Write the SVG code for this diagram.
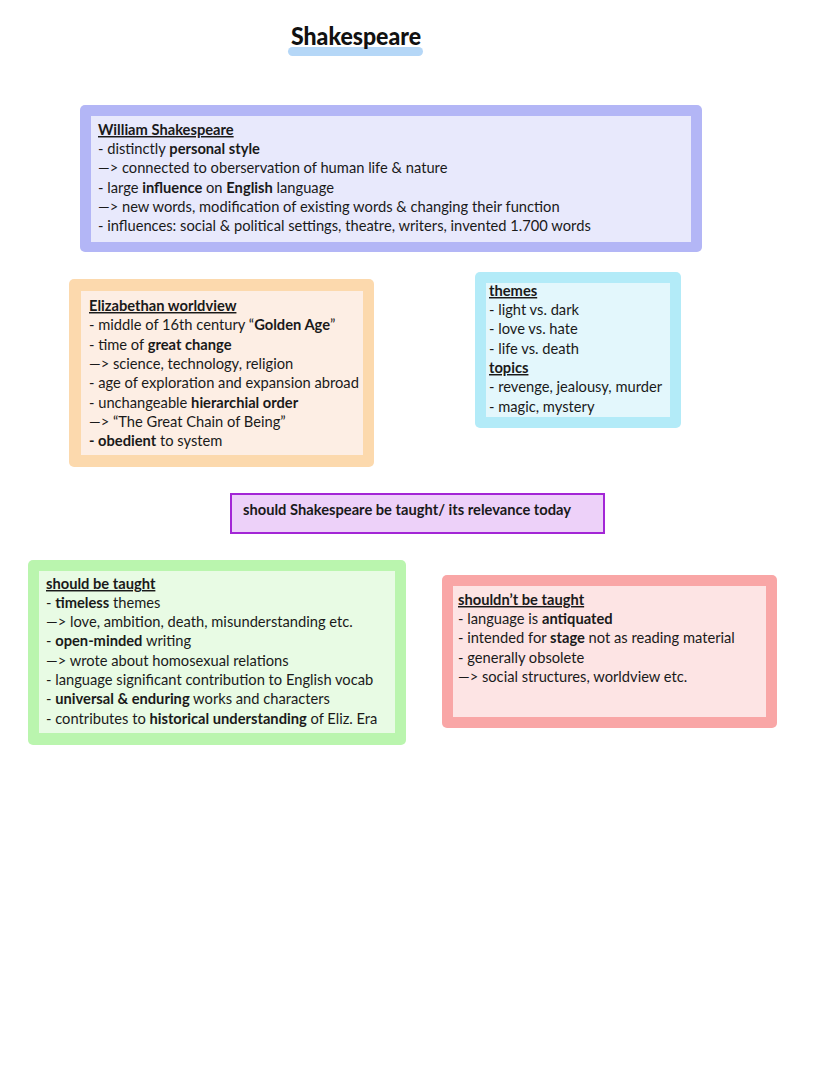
<svg xmlns="http://www.w3.org/2000/svg" width="828" height="1069" viewBox="0 0 828 1069">
<style>
.t{font-family:Lato,"Open Sans","Liberation Sans",sans-serif;font-size:14.7px;fill:#1a1a1a}
.b{font-weight:bold}
.u{font-weight:bold;text-decoration:underline}
.title{font-family:Lato,"Liberation Sans",sans-serif;font-size:25px;font-weight:900;fill:#111}
</style>
<rect width="828" height="1069" fill="#ffffff"/>
<g id="title">
<rect x="288" y="47" width="135" height="9" rx="4.5" fill="#b5d7f7"/>
<text class="title" x="291" y="45" textLength="130" lengthAdjust="spacingAndGlyphs">Shakespeare</text>
</g>
<g id="connectors"></g>
<g id="william">
<rect x="80" y="105" width="622" height="147" rx="5" fill="#b3b6f6"/>
<rect x="91" y="116" width="600" height="126" fill="#e8e9fc"/>
<text class="t" x="98" y="135"><tspan class="u">William Shakespeare</tspan></text>
<text class="t" x="98" y="154">- distinctly <tspan class="b">personal style</tspan></text>
<text class="t" x="98" y="173">—&gt; connected to oberservation of human life &amp; nature</text>
<text class="t" x="98" y="193">- large <tspan class="b">influence</tspan> on <tspan class="b">English</tspan> language</text>
<text class="t" x="98" y="212">—&gt; new words, modification of existing words &amp; changing their function</text>
<text class="t" x="98" y="231">- influences: social &amp; political settings, theatre, writers, invented 1.700 words</text>
</g>
<g id="elizabethan">
<rect x="69" y="279" width="305" height="188" rx="5" fill="#fcd9ad"/>
<rect x="81" y="291" width="282" height="164" fill="#fdeee4"/>
<text class="t" x="89" y="311"><tspan class="u">Elizabethan worldview</tspan></text>
<text class="t" x="89" y="330">- middle of 16th century “<tspan class="b">Golden Age</tspan>”</text>
<text class="t" x="89" y="350">- time of <tspan class="b">great change</tspan></text>
<text class="t" x="89" y="369">—&gt; science, technology, religion</text>
<text class="t" x="89" y="388">- age of exploration and expansion abroad</text>
<text class="t" x="89" y="408">- unchangeable <tspan class="b">hierarchial order</tspan></text>
<text class="t" x="89" y="427">—&gt; “The Great Chain of Being”</text>
<text class="t" x="89" y="446"><tspan class="b">- obedient</tspan> to system</text>
</g>
<g id="themes">
<rect x="475" y="272" width="206" height="156" rx="5" fill="#b3ebf8"/>
<rect x="486" y="283" width="184" height="134" fill="#e3f7fc"/>
<text class="t" x="489" y="296"><tspan class="u">themes</tspan></text>
<text class="t" x="489" y="315">- light vs. dark</text>
<text class="t" x="489" y="334">- love vs. hate</text>
<text class="t" x="489" y="354">- life vs. death</text>
<text class="t" x="489" y="373"><tspan class="u">topics</tspan></text>
<text class="t" x="489" y="392">- revenge, jealousy, murder</text>
<text class="t" x="489" y="412">- magic, mystery</text>
</g>
<g id="question">
<rect x="231" y="494" width="373" height="39" fill="#edd1f9" stroke="#a326d6" stroke-width="2"/>
<text class="t b" x="243" y="515">should Shakespeare be taught/ its relevance today</text>
</g>
<g id="should">
<rect x="28" y="560" width="378" height="185" rx="5" fill="#baf5ae"/>
<rect x="39" y="571" width="356" height="162" fill="#e8fbe4"/>
<text class="t" x="46" y="589"><tspan class="u">should be taught</tspan></text>
<text class="t" x="46" y="608">- <tspan class="b">timeless</tspan> themes</text>
<text class="t" x="46" y="627">—&gt; love, ambition, death, misunderstanding etc.</text>
<text class="t" x="46" y="646">- <tspan class="b">open-minded</tspan> writing</text>
<text class="t" x="46" y="666">—&gt; wrote about homosexual relations</text>
<text class="t" x="46" y="685">- language significant contribution to English vocab</text>
<text class="t" x="46" y="704">- <tspan class="b">universal &amp; enduring</tspan> works and characters</text>
<text class="t" x="46" y="724">- contributes to <tspan class="b">historical understanding</tspan> of Eliz. Era</text>
</g>
<g id="shouldnt">
<rect x="442" y="575" width="335" height="153" rx="5" fill="#f9a6a6"/>
<rect x="453" y="586" width="313" height="131" fill="#fde4e4"/>
<text class="t" x="458" y="605"><tspan class="u">shouldn’t be taught</tspan></text>
<text class="t" x="458" y="624">- language is <tspan class="b">antiquated</tspan></text>
<text class="t" x="458" y="643">- intended for <tspan class="b">stage</tspan> not as reading material</text>
<text class="t" x="458" y="663">- generally obsolete</text>
<text class="t" x="458" y="682">—&gt; social structures, worldview etc.</text>
</g>
</svg>
